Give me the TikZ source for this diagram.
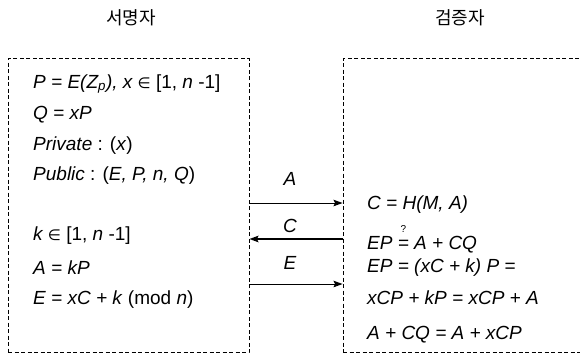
\documentclass[tikz,border=0pt]{standalone}
\usepackage{fontspec}
\setmainfont{Liberation Sans}
\newfontfamily\hangul{Noto Sans CJK KR}
\newfontfamily\symb{DejaVu Sans}
\usetikzlibrary{arrows.meta,positioning}

\newcommand{\elem}{{\symb\upshape\fontsize{15}{18}\selectfont ∈}}
\newcommand{\qeq}{\leavevmode\setbox0\hbox{=}\rlap{\hbox to \wd0{\hss\raisebox{17pt}{\fontsize{10}{10}\selectfont\upshape ?}\hss}}\box0}

\begin{document}
\begin{tikzpicture}[
    x=1pt, y=-1pt,
    title/.style={font=\hangul\fontsize{18}{20}\selectfont, inner sep=0pt},
    party/.style={draw, dash pattern=on 4pt off 2.5pt, line width=0.9pt},
    eq/.style={anchor=west, inner sep=0pt, font=\fontsize{19}{22}\selectfont\itshape},
    lbl/.style={inner sep=0pt, font=\fontsize{19}{22}\selectfont\itshape},
    msg/.style={line width=1pt, -{Stealth[length=9pt,width=6.5pt,inset=1.5pt]}}
]
\clip (0,0) rectangle (580,360);

% Titles
\node[title] (sig_title) at (131,18) {서명자};
\node[title] (ver_title) at (460,18) {검증자};

% Boxes (the verifier box runs off the right edge)
\node[party, minimum width=241pt, minimum height=294pt, inner sep=0pt] (sig_box) at (128.5,205.5) {};
\node[party, minimum width=257pt, minimum height=294pt, inner sep=0pt] (ver_box) at (471.5,205.5) {};

% Signer side
\node[eq] (sig_l1) at (33,84) {P = E(Z\textsubscript{p}), x \elem\ \textup{[1,} n \textup{-1]}};
\node[eq] (sig_l2) at (33,115) {Q = xP};
\node[eq] (sig_l3) at (33,146) {Private\textup{ : (}x\textup{)}};
\node[eq] (sig_l4) at (33,176) {Public\textup{ : (}E, P, n, Q\textup{)}};
\node[eq] (sig_l5) at (33,236) {k \elem\ \textup{[1,} n \textup{-1]}};
\node[eq] (sig_l6) at (33,268) {A = kP};
\node[eq] (sig_l7) at (33,300) {E = xC + k \textup{(mod} n\textup{)}};

% Verifier side
\node[eq] (ver_l1) at (367,205) {C = H(M, A)};
\node[eq] (ver_l2) at (367,239) {EP \qeq\ A + CQ};
\node[eq] (ver_l3) at (367,268) {EP = (xC + k) P =};
\node[eq] (ver_l4) at (367,298) {xCP + kP = xCP + A};
\node[eq] (ver_l5) at (367,335) {A + CQ = A + xCP};

% Messages
\coordinate (msg_a) at (0,203);
\coordinate (msg_c) at (0,239);
\coordinate (msg_e) at (0,284);
\node[lbl] (lbl_a) at (290,179) {A};
\node[lbl] (lbl_c) at (290,226) {C};
\node[lbl] (lbl_e) at (290,263) {E};

\draw[msg] (sig_box.east |- msg_a) -- (ver_box.west |- msg_a);
\draw[msg, line width=1.7pt] (ver_box.west |- msg_c) -- (sig_box.east |- msg_c);
\draw[msg] (sig_box.east |- msg_e) -- (ver_box.west |- msg_e);

\end{tikzpicture}
\end{document}
